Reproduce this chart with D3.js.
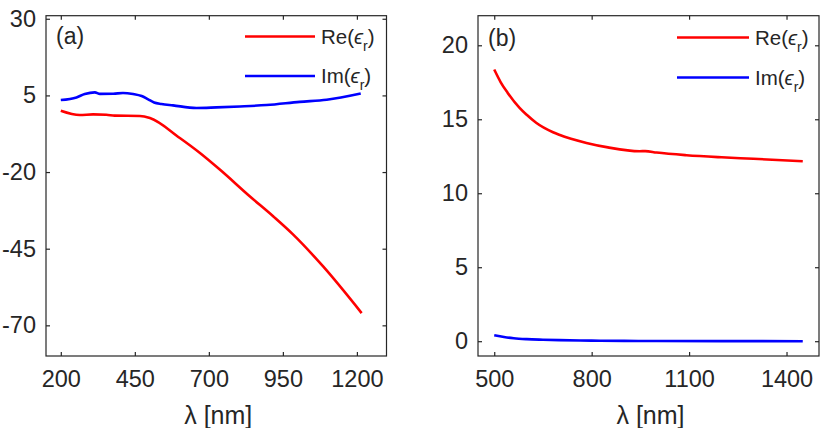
<!DOCTYPE html>
<html>
<head>
<meta charset="utf-8">
<script src="https://cdn.jsdelivr.net/npm/d3@7"></script>
<style>
  html, body { margin: 0; padding: 0; background: #fff; }
  svg { display: block; }
  text { font-family: "Liberation Sans", Arial, Helvetica, sans-serif; fill: #262626; }
</style>
</head>
<body>
<svg id="chart" width="830" height="428"></svg>
<script>
// ---- Panel (a) data ----
const aImWl  = [200, 253, 281, 315, 332, 377, 410, 444, 473, 495, 515, 540, 579, 658, 726, 805, 895, 1007, 1098, 1213];
const aImVal = [3.5, 4.35, 5.45, 6.0, 5.5, 5.55, 5.8, 5.45, 4.8, 3.7, 2.7, 2.2, 1.75, 0.9, 1.1, 1.4, 1.85, 2.9, 3.6, 5.65];
const aReWl  = [200, 264, 309, 354, 382, 467, 501, 602, 670, 737, 838, 918, 985, 1086, 1216];
const aReVal = [0.0, -1.4, -1.2, -1.3, -1.6, -1.7, -2.4, -8.9, -13.8, -19.2, -27.9, -34.5, -40.4, -50.8, -66.0];
const aXTicks = [200, 450, 700, 950, 1200];
const aYTicks = [-70, -45, -20, 5, 30];

// ---- Panel (b) data ----
const bReWl  = [500, 520, 541, 578, 600, 629, 681, 700, 784, 850, 948, 965, 1000, 1092, 1200, 1298, 1450];
const bReVal = [18.36, 17.5, 16.8, 15.77, 15.3, 14.76, 14.12, 13.95, 13.4, 13.1, 12.84, 12.85, 12.75, 12.57, 12.43, 12.33, 12.16];
const bImWl  = [500, 530, 560, 600, 650, 700, 800, 900, 1000, 1200, 1450];
const bImVal = [0.4, 0.28, 0.2, 0.14, 0.1, 0.07, 0.04, 0.02, 0.01, 0.005, 0.0];
const bXTicks = [500, 800, 1100, 1400];
const bYTicks = [0, 5, 10, 15, 20];

const legendLabels = ["Re", "Im"];
const colors = ["#ff0000", "#0000ff"];
const panelLabels = ["(a)", "(b)"];
const xLabel = "λ [nm]";

const svg = d3.select("#chart");
const frame = "#262626";
const fmt = d => String(d);

function panel(cfg) {
  const { left, right, top, bottom, xDomain, yDomain, xTicks, yTicks, series, label, labelY, legendX0, legendX1, legendTextX, legendY } = cfg;
  const x = d3.scaleLinear().domain(xDomain).range([left, right]);
  const y = d3.scaleLinear().domain(yDomain).range([bottom, top]);
  const g = svg.append("g");
  const tl = 4;

  // box
  g.append("rect").attr("x", left).attr("y", top)
    .attr("width", right - left).attr("height", bottom - top)
    .attr("fill", "none").attr("stroke", frame).attr("stroke-width", 1.2);

  // bottom axis
  const xb = g.append("g").attr("transform", `translate(0,${bottom})`)
    .call(d3.axisBottom(x).tickValues(xTicks).tickSize(-tl).tickPadding(31).tickFormat(fmt));
  xb.select(".domain").remove();
  xb.selectAll("line").attr("stroke", frame).attr("stroke-width", 1.2);
  xb.selectAll("text").attr("font-size", 23.5).attr("fill", frame).attr("dy", "0");
  // top ticks
  const xt = g.append("g").attr("transform", `translate(0,${top})`)
    .call(d3.axisTop(x).tickValues(xTicks).tickSize(-tl).tickFormat(""));
  xt.select(".domain").remove();
  xt.selectAll("line").attr("stroke", frame).attr("stroke-width", 1.2);

  // left axis
  const yl = g.append("g").attr("transform", `translate(${left},0)`)
    .call(d3.axisLeft(y).tickValues(yTicks).tickSize(-tl).tickPadding(10).tickFormat(fmt));
  yl.select(".domain").remove();
  yl.selectAll("line").attr("stroke", frame).attr("stroke-width", 1.2);
  yl.selectAll("text").attr("font-size", 23.5).attr("fill", frame);
  // right ticks
  const yr = g.append("g").attr("transform", `translate(${right},0)`)
    .call(d3.axisRight(y).tickValues(yTicks).tickSize(-tl).tickFormat(""));
  yr.select(".domain").remove();
  yr.selectAll("line").attr("stroke", frame).attr("stroke-width", 1.2);

  // x label
  g.append("text").attr("x", (left + right) / 2 + 2).attr("y", 424)
    .attr("text-anchor", "middle").attr("font-size", 25).text(xLabel);

  // curves
  const line = d3.line().x(d => x(d[0])).y(d => y(d[1])).curve(d3.curveMonotoneX);
  series.forEach((s, i) => {
    const pts = s.wl.map((w, k) => [w, s.val[k]]);
    g.append("path").datum(pts).attr("d", line)
      .attr("fill", "none").attr("stroke", colors[i]).attr("stroke-width", 2.6)
      .attr("stroke-linejoin", "round");
  });

  // panel label
  g.append("text").attr("x", left + 10).attr("y", labelY)
    .attr("font-size", 23).text(label);

  // legend
  legendLabels.forEach((lab, i) => {
    const ly = legendY[i];
    g.append("line").attr("x1", legendX0).attr("x2", legendX1)
      .attr("y1", ly).attr("y2", ly).attr("stroke", colors[i]).attr("stroke-width", 2.6);
    const t = g.append("text").attr("x", legendTextX).attr("y", ly + 7).attr("font-size", 20.5);
    t.append("tspan").text(lab + "(");
    t.append("tspan").attr("font-style", "italic").text("ϵ");
    t.append("tspan").attr("font-size", 14).attr("dy", 7).text("r");
    t.append("tspan").attr("dy", -7).text(")");
  });
}

panel({
  left: 46, right: 386.5, top: 15.7, bottom: 356,
  xDomain: [150, 1300], yDomain: [-80, 31],
  xTicks: aXTicks, yTicks: aYTicks,
  series: [{ wl: aReWl, val: aReVal }, { wl: aImWl, val: aImVal }],
  label: panelLabels[0], labelY: 44,
  legendX0: 245, legendX1: 315, legendTextX: 321, legendY: [36.5, 76]
});

panel({
  left: 478, right: 819, top: 15.7, bottom: 356,
  xDomain: [450, 1500], yDomain: [-1, 22],
  xTicks: bXTicks, yTicks: bYTicks,
  series: [{ wl: bReWl, val: bReVal }, { wl: bImWl, val: bImVal }],
  label: panelLabels[1], labelY: 46,
  legendX0: 677, legendX1: 749, legendTextX: 755, legendY: [37.5, 77.5]
});
</script>
</body>
</html>
